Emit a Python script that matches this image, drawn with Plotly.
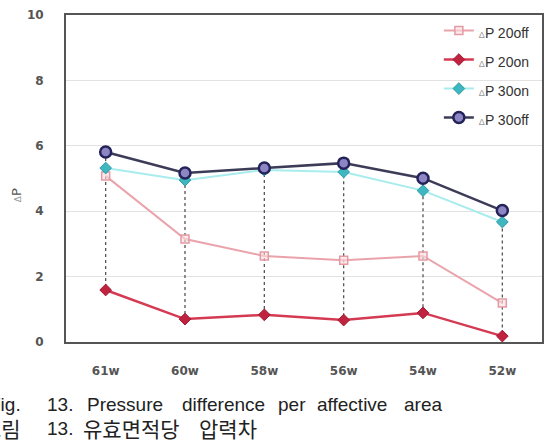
import plotly.graph_objects as go

categories = ["61w", "60w", "58w", "56w", "54w", "52w"]
dp_20off = [5.08, 3.15, 2.63, 2.50, 2.63, 1.19]
dp_20on = [1.59, 0.70, 0.83, 0.67, 0.89, 0.18]
dp_30on = [5.32, 4.95, 5.26, 5.20, 4.63, 3.67]
dp_30off = [5.81, 5.17, 5.32, 5.47, 5.01, 4.02]
y_ticks = [0, 2, 4, 6, 8, 10]

W, H = 551, 444
L, R, T, B = 66, 7, 15, 102
pw, ph = W - L - R, H - T - B


def px(x):
    return (x - L) / pw


def py(y):
    return (H - B - y) / ph


fig = go.Figure()

# drop lines (max to min per category)
all_series = [dp_20off, dp_20on, dp_30on, dp_30off]
dx, dy = [], []
for i, c in enumerate(categories):
    vals = [s[i] for s in all_series]
    dx += [c, c, None]
    dy += [max(vals), min(vals), None]
fig.add_trace(go.Scatter(x=dx, y=dy, mode="lines", showlegend=False,
                         line=dict(color="#555555", width=1.3, dash="dot"),
                         hoverinfo="skip"))


def lname(s):
    return ("<span style='font-size:9px;color:#999'>Δ</span>"
            "<span style='font-size:14px'>P " + s + "</span>")


fig.add_trace(go.Scatter(x=categories, y=dp_20off, mode="lines+markers",
                         name=lname("20off"),
                         line=dict(color="#eaa3ab", width=2),
                         marker=dict(symbol="square", size=8, color="rgba(250,220,225,0.6)",
                                     line=dict(color="#e49aa3", width=1.5))))
fig.add_trace(go.Scatter(x=categories, y=dp_20on, mode="lines+markers",
                         name=lname("20on"),
                         line=dict(color="#d43a52", width=2.5),
                         marker=dict(symbol="diamond", size=9, color="#c0233f",
                                     line=dict(color="#a01a30", width=1))))
fig.add_trace(go.Scatter(x=categories, y=dp_30on, mode="lines+markers",
                         name=lname("30on"),
                         line=dict(color="#a8ecee", width=2),
                         marker=dict(symbol="diamond", size=9, color="#3fb7c0",
                                     line=dict(color="#2e9aa3", width=1))))
fig.add_trace(go.Scatter(x=categories, y=dp_30off, mode="lines+markers",
                         name=lname("30off"),
                         line=dict(color="#3c3c58", width=2.5),
                         marker=dict(symbol="circle", size=11, color="#8e86c4",
                                     line=dict(color="#23235a", width=2.5))))

ann = []
lat_font = dict(family="Liberation Sans, Arial, sans-serif", size=19, color="#222")
kor_font = dict(family="Noto Sans CJK KR, sans-serif", size=21, color="#222")
cap1 = [("Fig.", 23, "right"), ("13.", 45, "left"), ("Pressure", 85, "left"),
        ("difference", 180, "left"), ("per", 277, "left"), ("affective", 316, "left"),
        ("area", 403, "left")]
for t, x, anc in cap1:
    ann.append(dict(text=t, x=px(x), y=py(404), xref="paper", yref="paper",
                    xanchor=anc, yanchor="middle", showarrow=False, font=lat_font))
cap2 = [("그림", 23, "right"), ("13.", 45, "left"), ("유효면적당", 81, "left"),
        ("압력차", 198, "left")]
for t, x, anc in cap2:
    ann.append(dict(text=t, x=px(x), y=py(428), xref="paper", yref="paper",
                    xanchor=anc, yanchor="middle", showarrow=False,
                    font=kor_font if t not in ("13.",) else lat_font))
ann.append(dict(text="<span style='font-size:9px;color:#999'>Δ</span>P", textangle=-90,
                x=px(16), y=py(195),
                xref="paper", yref="paper", xanchor="center", yanchor="middle",
                showarrow=False, font=dict(family="DejaVu Sans", size=13, color="#555")))

fig.update_layout(
    width=W, height=H,
    margin=dict(l=L, r=R, t=T, b=B),
    paper_bgcolor="white", plot_bgcolor="white",
    showlegend=True,
    legend=dict(x=0.985, y=1.012, xanchor="right", yanchor="top",
                bgcolor="rgba(0,0,0,0)",
                font=dict(family="Liberation Sans, Arial", size=20, color="#333"),
                itemwidth=30, tracegroupgap=0),
    annotations=ann,
    font=dict(family="Arial"),
)
fig.update_xaxes(type="category", range=[-0.5, 5.5], showline=True, linecolor="#555",
                 linewidth=2, mirror=True, showgrid=False, ticks="",
                 tickfont=dict(family="DejaVu Sans", size=12, color="#555", weight="bold"),
                 ticklabelstandoff=17)
fig.update_yaxes(range=[0, 10], tickvals=y_ticks, showline=True, linecolor="#555",
                 linewidth=2, mirror=True, gridcolor="#e2e2e2", gridwidth=1,
                 zeroline=False, ticks="",
                 tickfont=dict(family="DejaVu Sans", size=12, color="#555", weight="bold"),
                 ticklabelstandoff=18)

fig.write_html("out.html")
